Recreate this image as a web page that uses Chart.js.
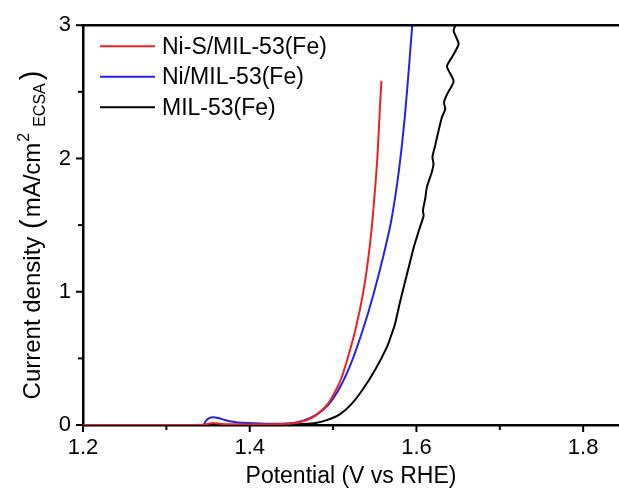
<!DOCTYPE html>
<html><head><meta charset="utf-8">
<script src="https://cdn.jsdelivr.net/npm/chart.js@4.4.1/dist/chart.umd.min.js"></script>
<style>html,body{margin:0;padding:0;background:#fff}#wrap{width:619px;height:490px;position:relative}</style>
</head><body><div id="wrap"><canvas id="c" width="619" height="490"></canvas></div>
<script>
// ---- data ----
const seriesNames = ['Ni-S/MIL-53(Fe)', 'Ni/MIL-53(Fe)', 'MIL-53(Fe)'];
const seriesColors = ['#ee2020', '#2222ee', '#000000'];

const redV = [1.20, 1.30, 1.345, 1.352, 1.358, 1.366, 1.38, 1.42, 1.45, 1.465, 1.479, 1.494, 1.508, 1.517, 1.527, 1.536, 1.543, 1.548, 1.553, 1.556, 1.558];
const redJ = [0.0, 0.0, 0.002, 0.012, 0.014, 0.008, 0.005, 0.005, 0.012, 0.03, 0.07, 0.16, 0.32, 0.49, 0.72, 0.99, 1.29, 1.59, 1.99, 2.36, 2.58];

const blueV = [1.20, 1.30, 1.344, 1.348, 1.352, 1.356, 1.362, 1.37, 1.38, 1.39, 1.42, 1.45, 1.465, 1.479, 1.494, 1.508, 1.522, 1.536, 1.548, 1.560, 1.570, 1.579, 1.586, 1.591, 1.595, 1.600];
const blueJ = [0.0, 0.0, 0.002, 0.035, 0.053, 0.058, 0.052, 0.038, 0.024, 0.016, 0.01, 0.014, 0.035, 0.075, 0.15, 0.28, 0.47, 0.72, 0.97, 1.26, 1.54, 1.91, 2.31, 2.68, 3.0, 3.3];

const blackV = [1.20, 1.30, 1.40, 1.45, 1.465, 1.479, 1.494, 1.508, 1.522, 1.536, 1.551, 1.565, 1.569, 1.574, 1.5806, 1.589, 1.5966, 1.5985, 1.6040, 1.6086, 1.6078, 1.6106, 1.6125, 1.6186, 1.6205, 1.6192, 1.6226, 1.6266, 1.6306, 1.6346, 1.6330, 1.6366, 1.6446, 1.6366, 1.6426, 1.6506, 1.6446, 1.6506];
const blackJ = [0.0, 0.0, 0.0, 0.003, 0.007, 0.015, 0.04, 0.08, 0.157, 0.27, 0.42, 0.59, 0.66, 0.75, 0.93, 1.14, 1.33, 1.37, 1.48, 1.57, 1.61, 1.70, 1.785, 1.90, 1.96, 2.01, 2.10, 2.21, 2.31, 2.37, 2.42, 2.48, 2.58, 2.69, 2.76, 2.86, 2.96, 3.05];

const xMajorLabels = [1.2, 1.4, 1.6, 1.8];
const yMajorLabels = [0, 1, 2, 3];
const xTitle = 'Potential (V vs RHE)';
const yTitleParts = ['Current density ', '(', 'mA/cm', '2', 'ECSA', ')'];

// ---- build ----
const FONT = '"Liberation Sans", Arial, Helvetica, sans-serif';
const toPts = (xs, ys) => xs.map((v, i) => ({x: v, y: ys[i]}));
const seriesV = [redV, blueV, blackV];
const seriesJ = [redJ, blueJ, blackJ];

const datasets = seriesNames.map((n, i) => ({
  label: n,
  data: toPts(seriesV[i], seriesJ[i]),
  borderColor: seriesColors[i],
  backgroundColor: seriesColors[i],
  borderWidth: 2,
  pointRadius: 0,
  tension: 0.2,
  fill: false
}));

const near = (v, arr) => arr.some(a => Math.abs(a - v) < 1e-6);

const framePlugin = {
  id: 'frame',
  afterDatasetsDraw(chart) {
    const {ctx, chartArea: a, scales: {x, y}} = chart;
    ctx.save();
    ctx.strokeStyle = '#000';
    ctx.lineWidth = 2.5;
    ctx.beginPath(); ctx.moveTo(a.left - 1.25, a.top); ctx.lineTo(a.right, a.top); ctx.stroke();
    ctx.lineWidth = 2;
    x.ticks.forEach(t => {
      const px = x.getPixelForValue(t.value);
      const major = near(t.value, xMajorLabels);
      ctx.beginPath(); ctx.moveTo(px, a.bottom); ctx.lineTo(px, a.bottom + (major ? 7 : 5)); ctx.stroke();
    });
    y.ticks.forEach(t => {
      const py = y.getPixelForValue(t.value);
      const major = near(t.value, yMajorLabels);
      ctx.beginPath(); ctx.moveTo(a.left, py); ctx.lineTo(a.left - (major ? 7 : 5), py); ctx.stroke();
    });
    ctx.restore();
  },
  afterDraw(chart) {
    const {ctx, chartArea: a} = chart;
    ctx.save();
    // legend
    ctx.font = '23px ' + FONT;
    ctx.textBaseline = 'middle';
    ctx.textAlign = 'left';
    chart.data.datasets.forEach((d, i) => {
      const yy = a.top + 21 + i * 30.5;
      ctx.strokeStyle = d.borderColor; ctx.lineWidth = 2;
      ctx.beginPath(); ctx.moveTo(a.left + 17, yy); ctx.lineTo(a.left + 72, yy); ctx.stroke();
      ctx.fillStyle = '#000';
      ctx.fillText(d.label, a.left + 79, yy + 1);
    });
    // y title with superscript / subscript
    const fonts = ['24px ' + FONT, '29px ' + FONT, '24px ' + FONT, '16px ' + FONT, '16px ' + FONT, '29px ' + FONT];
    const shifts = [0, 1, 0, -11, 5, 1];
    const gaps = [1, 2, 1, 6, 3, 0];
    const widths = yTitleParts.map((p, i) => { ctx.font = fonts[i]; return ctx.measureText(p).width; });
    const total = widths.reduce((s, w, i) => s + w + gaps[i], 0);
    const cy = 235;
    ctx.translate(40, cy);
    ctx.rotate(-Math.PI / 2);
    ctx.textBaseline = 'alphabetic';
    ctx.fillStyle = '#000';
    let px = -total / 2;
    yTitleParts.forEach((p, i) => {
      ctx.font = fonts[i];
      ctx.fillText(p, px, shifts[i]);
      px += widths[i] + gaps[i];
    });
    ctx.restore();
  }
};

new Chart(document.getElementById('c'), {
  type: 'line',
  data: {datasets},
  options: {
    responsive: false,
    devicePixelRatio: 1,
    animation: false,
    layout: {padding: {top: 24, right: 0, left: 0, bottom: 0}},
    plugins: {legend: {display: false}, tooltip: {enabled: false}},
    scales: {
      x: {
        type: 'linear', min: 1.2, max: 1.843,
        grid: {display: false, drawTicks: false},
        border: {display: true, color: '#000', width: 2.5},
        ticks: {
          stepSize: 0.1, includeBounds: false, padding: 10, maxRotation: 0, autoSkip: false,
          color: '#000', font: {family: FONT, size: 22},
          callback: v => near(v, xMajorLabels) ? v.toFixed(1) : ''
        },
        title: {display: true, text: xTitle, color: '#000', font: {family: FONT, size: 23}, padding: {top: 0, bottom: 0}},
        afterFit: s => { s.height = 65; }
      },
      y: {
        type: 'linear', min: 0, max: 3,
        grid: {display: false, drawTicks: false},
        border: {display: true, color: '#000', width: 2.5},
        ticks: {
          stepSize: 0.5, includeBounds: false, padding: 12, autoSkip: false,
          color: '#000', font: {family: FONT, size: 22},
          callback: v => near(v, yMajorLabels) ? String(Math.round(v)) : ''
        },
        afterFit: s => { s.width = 83; }
      }
    }
  },
  plugins: [framePlugin]
});
</script></body></html>
